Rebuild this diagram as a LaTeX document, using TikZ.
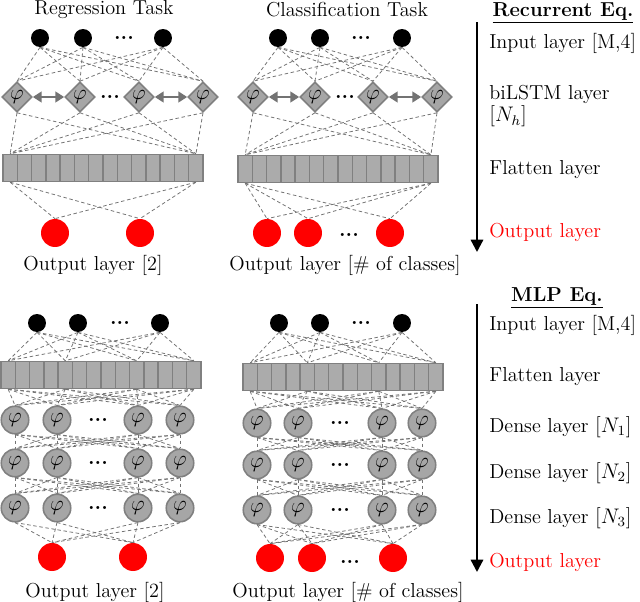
\documentclass[tikz,border=0pt]{standalone}
\usetikzlibrary{shapes.geometric,arrows.meta,backgrounds}
\begin{document}
\begin{tikzpicture}[x=0.02cm, y=-0.02cm,
    every node/.style={font=\fontsize{11.5}{13}\selectfont},
    inp/.style={circle, fill=black, minimum size=0.36cm, inner sep=0pt},
    outp/.style={circle, fill=red, minimum size=0.56cm, inner sep=0pt},
    lstm/.style={diamond, draw=black!50, fill=black!35, line width=0.9pt, minimum size=0.6cm, inner sep=0pt, font=\fontsize{12.5}{13}\selectfont},
    neuron/.style={circle, draw=black!50, fill=black!35, line width=0.9pt, minimum size=0.55cm, inner sep=0pt, font=\fontsize{12.5}{13}\selectfont},
    cell/.style={rectangle, draw=black!50, fill=black!33, line width=0.8pt, minimum width=0.2857cm, minimum height=0.54cm, inner sep=0pt},
    link/.style={draw=black!55, dash pattern=on 2pt off 1.5pt, line width=0.45pt},
    recur/.style={draw=black!55, line width=1.3pt, {Triangle[length=5pt,width=6pt]}-{Triangle[length=5pt,width=6pt]}},
    flow/.style={draw=black, line width=1.3pt, -{Triangle[length=7pt,width=7pt]}},
    more/.style={inner sep=0pt, font=\bfseries\fontsize{12}{13}\selectfont},
    lbl/.style={anchor=west, inner sep=0pt}]
    % Fix the size of the page
    \useasboundingbox (0,0) rectangle (640,602);

    % ---------------- Recurrent, regression ----------------
    \node (rrtitle) at (104,10) {Regression Task};
    \foreach \x [count=\i] in {40,83,163}
        \node[inp] (rrin\i) at (\x,38) {};
    \node[more] (rrdots1) at (124,38) {...};
    \foreach \x [count=\i] in {17,80,139,203}
        \node[lstm] (rrls\i) at (\x,97) {$\varphi$};
    \node[more] (rrdots2) at (110,97) {...};
    \foreach \k in {1,...,14}
        \node[cell] (rrfl\k) at ({3+14.29*(\k-0.5)},168) {};
    \foreach \x [count=\i] in {55,140}
        \node[outp] (rrout\i) at (\x,233) {};
    \node (rrlabel) at (93,265) {Output layer [2]};
    \draw[recur] (rrls1.east) -- (rrls2.west);
    \draw[recur] (rrls3.east) -- (rrls4.west);

    % ---------------- Recurrent, classification ----------------
    \node (rctitle) at (347,10) {Classification Task};
    \foreach \x [count=\i] in {278,320,402}
        \node[inp] (rcin\i) at (\x,38) {};
    \node[more] (rcdots1) at (361,38) {...};
    \foreach \x [count=\i] in {253,315,373,437}
        \node[lstm] (rcls\i) at (\x,97) {$\varphi$};
    \node[more] (rcdots2) at (345,97) {...};
    \foreach \k in {1,...,14}
        \node[cell] (rcfl\k) at ({238+14.29*(\k-0.5)},169) {};
    \foreach \x [count=\i] in {267,308,390}
        \node[outp] (rcout\i) at (\x,233) {};
    \node[more] (rcdots3) at (349,235) {...};
    \node (rclabel) at (345,265) {Output layer [\# of classes]};
    \draw[recur] (rcls1.east) -- (rcls2.west);
    \draw[recur] (rcls3.east) -- (rcls4.west);

    % ---------------- MLP, regression ----------------
    \foreach \x [count=\i] in {37,78,160}
        \node[inp] (mrin\i) at (\x,323) {};
    \node[more] (mrdots0) at (120,323) {...};
    \foreach \k in {1,...,14}
        \node[cell] (mrfl\k) at ({1+14.29*(\k-0.5)},375) {};
    \foreach \y [count=\r] in {420,463,508} {
        \foreach \x [count=\i] in {15,57,138,180}
            \node[neuron] (mrd\r\i) at (\x,\y) {$\varphi$};
        \node[more] (mrdots\r) at (98,\y) {...};
    }
    \foreach \x [count=\i] in {52,133}
        \node[outp] (mrout\i) at (\x,557) {};
    \node (mrlabel) at (95,592) {Output layer [2]};

    % ---------------- MLP, classification ----------------
    \foreach \x [count=\i] in {279,320,402}
        \node[inp] (mcin\i) at (\x,323) {};
    \node[more] (mcdots0) at (361,323) {...};
    \foreach \k in {1,...,14}
        \node[cell] (mcfl\k) at ({243+14.29*(\k-0.5)},377) {};
    \foreach \y [count=\r] in {423,465,510} {
        \foreach \x [count=\i] in {257,298,382,422}
            \node[neuron] (mcd\r\i) at (\x,\y) {$\varphi$};
        \node[more] (mcdots\r) at (340,\y) {...};
    }
    \foreach \x [count=\i] in {270,312,393}
        \node[outp] (mcout\i) at (\x,558) {};
    \node[more] (mcdots4) at (350,562) {...};
    \node (mclabel) at (348,592) {Output layer [\# of classes]};

    % ---------------- dashed connections ----------------
    \begin{scope}[on background layer]
        \foreach \p/\n in {rr/2, rc/3} {
            \foreach \i in {1,2,3}
                \foreach \j in {1,...,4}
                    \draw[link] (\p in\i.south) -- (\p ls\j.north);
            \foreach \j in {1,...,4}
                \foreach \k in {1,14}
                    \draw[link] (\p ls\j.south) -- (\p fl\k.north);
            \foreach \k in {1,14}
                \foreach \o in {1,...,\n}
                    \draw[link] (\p fl\k.south) -- (\p out\o.north);
        }
        \foreach \p/\n in {mr/2, mc/3} {
            \foreach \i in {1,2,3}
                \foreach \k in {1,5,10,14}
                    \draw[link] (\p in\i.south) -- (\p fl\k.north);
            \foreach \k in {1,5,10,14}
                \foreach \j in {1,...,4}
                    \draw[link] (\p fl\k.south) -- (\p d1\j.north);
            \foreach \r/\s in {1/2, 2/3}
                \foreach \i in {1,...,4}
                    \foreach \j in {1,...,4}
                        \draw[link] (\p d\r\i.south) -- (\p d\s\j.north);
            \foreach \i in {1,...,4}
                \foreach \o in {1,...,\n}
                    \draw[link] (\p d3\i.south) -- (\p out\o.north);
        }
    \end{scope}

    % ---------------- legend: recurrent ----------------
    \node (rtitle) at (563,13) {\underline{\textbf{Recurrent Eq.}}};
    \coordinate (rtop) at (477,22);
    \coordinate (rbot) at (477,252);
    \draw[flow] (rtop) -- (rbot);
    \node[lbl] (rl1) at (489,43) {Input layer [M,4]};
    \node[lbl, align=left] (rl2) at (489,106) {biLSTM layer\\$[N_h]$};
    \node[lbl] (rl3) at (489,170) {Flatten layer};
    \node[lbl, red] (rl4) at (489,232) {Output layer};

    % ---------------- legend: MLP ----------------
    \node (mtitle) at (557,298) {\underline{\textbf{MLP Eq.}}};
    \coordinate (mtop) at (477,304);
    \coordinate (mbot) at (477,572);
    \draw[flow] (mtop) -- (mbot);
    \node[lbl] (ml1) at (489,325) {Input layer [M,4]};
    \node[lbl] (ml2) at (489,377) {Flatten layer};
    \node[lbl] (ml3) at (489,427) {Dense layer $[N_1]$};
    \node[lbl] (ml4) at (489,473) {Dense layer $[N_2]$};
    \node[lbl] (ml5) at (489,518) {Dense layer $[N_3]$};
    \node[lbl, red] (ml6) at (489,562) {Output layer};
\end{tikzpicture}
\end{document}
